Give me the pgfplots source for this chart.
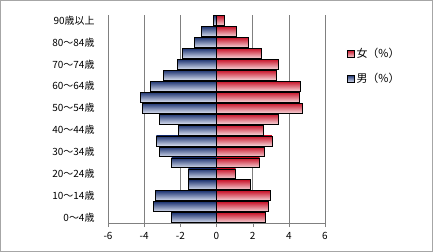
\documentclass[border=0pt]{standalone}
\usepackage{pgfplots}
\pgfplotsset{compat=1.18}
\usepackage{fontspec}
\setmainfont{Noto Sans CJK JP}
\definecolor{mtop}{HTML}{1F3572}
\definecolor{mbot}{HTML}{D6DDEE}
\definecolor{ftop}{HTML}{C8142A}
\definecolor{fbot}{HTML}{F6D2D6}
\pgfplotsset{
  fb/.style={xbar, bar width=0.9, bar shift=0pt, draw=black, line width=0.6pt, top color=ftop, bottom color=fbot},
  mb/.style={xbar, bar width=0.9, bar shift=0pt, draw=black, line width=0.6pt, top color=mtop, bottom color=mbot},
}
\begin{document}
\begin{tikzpicture}[font=\fontsize{10}{12}\selectfont]
\useasboundingbox (-108bp,-29bp) rectangle (325bp,223bp);
\draw[gray!70, line width=1bp] (-107.5bp,-28.5bp) rectangle (324.5bp,222.5bp);
\begin{axis}[
  at={(0,0)}, anchor=south west,
  scale only axis, width=217bp, height=208bp,
  xmin=-6, xmax=6, ymin=-0.5, ymax=18.5,
  axis lines*=left,
  axis line style={draw=gray, -},
  xtick={-6,-4,...,6},
  xticklabels={-6,-4,-2,0,2,4,6},
  tick align=outside,
  major tick length=4bp,
  x tick style={draw=gray},
  y tick style={draw=none},
  ytick={0,2,...,18},
  yticklabels={0～4歳,10～14歳,20～24歳,30～34歳,40～44歳,50～54歳,60～64歳,70～74歳,80～84歳,90歳以上},
  yticklabel style={xshift=-6bp},
  xticklabel style={yshift=-2bp},
  xmajorgrids, major grid style={draw=gray, line width=0.6pt},
  /pgf/number format/assume math mode=true,
  legend image code/.code={\draw[#1] (0bp,-3.5bp) rectangle (7bp,3.5bp);},
  legend style={at={(rel axis cs:1.1,0.85)}, anchor=north west, draw=none, fill=none,
    row sep=10bp, font=\fontsize{11}{13}\selectfont, inner sep=0pt},
  legend cell align=left,
]
% female (%)
\addplot[fb] coordinates {(2.72,0)};
\addlegendentry{女（\%）}
\addplot[fb, forget plot] coordinates {(2.89,1)};
\addplot[fb, forget plot] coordinates {(3.00,2)};
\addplot[fb, forget plot] coordinates {(1.89,3)};
\addplot[fb, forget plot] coordinates {(1.06,4)};
\addplot[fb, forget plot] coordinates {(2.39,5)};
\addplot[fb, forget plot] coordinates {(2.67,6)};
\addplot[fb, forget plot] coordinates {(3.06,7)};
\addplot[fb, forget plot] coordinates {(2.61,8)};
\addplot[fb, forget plot] coordinates {(3.39,9)};
\addplot[fb, forget plot] coordinates {(4.72,10)};
\addplot[fb, forget plot] coordinates {(4.59,11)};
\addplot[fb, forget plot] coordinates {(4.61,12)};
\addplot[fb, forget plot] coordinates {(3.33,13)};
\addplot[fb, forget plot] coordinates {(3.44,14)};
\addplot[fb, forget plot] coordinates {(2.50,15)};
\addplot[fb, forget plot] coordinates {(1.78,16)};
\addplot[fb, forget plot] coordinates {(1.09,17)};
\addplot[fb, forget plot] coordinates {(0.44,18)};
% male (%)
\addplot[mb] coordinates {(-2.50,0)};
\addlegendentry{男（\%）}
\addplot[mb, forget plot] coordinates {(-3.49,1)};
\addplot[mb, forget plot] coordinates {(-3.38,2)};
\addplot[mb, forget plot] coordinates {(-1.56,3)};
\addplot[mb, forget plot] coordinates {(-1.56,4)};
\addplot[mb, forget plot] coordinates {(-2.48,5)};
\addplot[mb, forget plot] coordinates {(-3.16,6)};
\addplot[mb, forget plot] coordinates {(-3.32,7)};
\addplot[mb, forget plot] coordinates {(-2.09,8)};
\addplot[mb, forget plot] coordinates {(-3.14,9)};
\addplot[mb, forget plot] coordinates {(-4.09,10)};
\addplot[mb, forget plot] coordinates {(-4.20,11)};
\addplot[mb, forget plot] coordinates {(-3.65,12)};
\addplot[mb, forget plot] coordinates {(-2.92,13)};
\addplot[mb, forget plot] coordinates {(-2.15,14)};
\addplot[mb, forget plot] coordinates {(-1.89,15)};
\addplot[mb, forget plot] coordinates {(-1.23,16)};
\addplot[mb, forget plot] coordinates {(-0.83,17)};
\addplot[mb, forget plot] coordinates {(-0.15,18)};
\end{axis}
\end{tikzpicture}
\end{document}
